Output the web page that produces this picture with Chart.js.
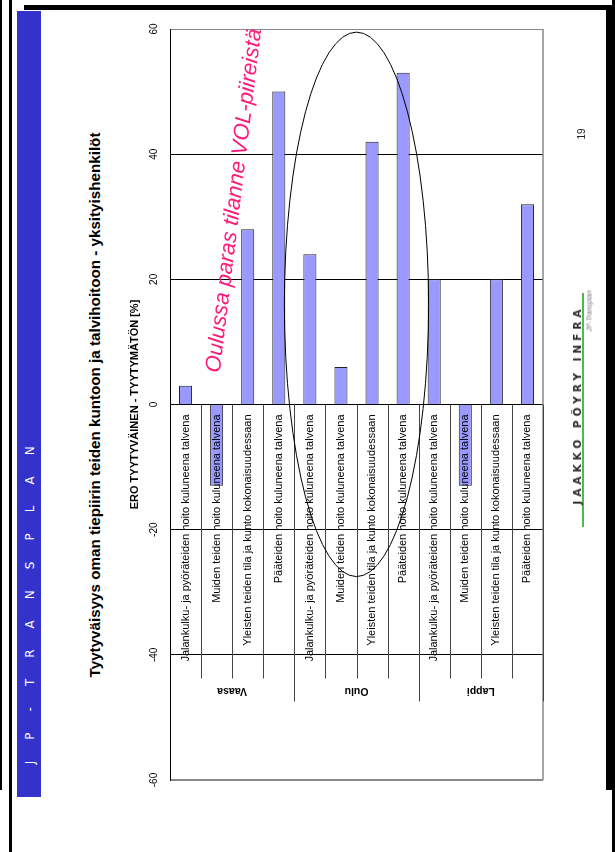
<!DOCTYPE html>
<html lang="fi">
<head>
<meta charset="utf-8">
<title>Tyytyväisyys oman tiepiirin teiden kuntoon ja talvihoitoon</title>
<script src="https://cdn.jsdelivr.net/npm/chart.js@4.4.1/dist/chart.umd.min.js"></script>
<style>
  html, body { margin: 0; padding: 0; background: #fff; }
  body { width: 615px; height: 852px; position: relative; overflow: hidden;
         font-family: "Liberation Sans", Arial, sans-serif; }
  #chart { position: absolute; left: 0; top: 0; }
  .rot { position: absolute; white-space: nowrap; transform: translate(-50%, -50%) rotate(-90deg); }
  .edge { position: absolute; background: #000; }
</style>
</head>
<body>
<!-- page frame -->
<div class="edge" style="left:0;top:0;width:2px;height:790px"></div>
<div class="edge" style="left:9px;top:0;width:3px;height:852px"></div>
<div class="edge" style="left:24px;top:5px;width:588px;height:5px"></div>
<div class="edge" style="left:606px;top:5px;width:6px;height:785px"></div>
<div class="edge" style="left:612px;top:0;width:3px;height:852px"></div>

<!-- side band -->
<div style="position:absolute;left:17px;top:11px;width:24px;height:786px;background:#3333cc"></div>
<div class="rot" style="left:30px;top:601px;color:#fff;font-family:'DejaVu Sans',sans-serif;font-size:12px;letter-spacing:8.6px">J P - T R A N S P L A N</div>

<div class="rot" style="left:94px;top:405px;font-size:15.2px;font-weight:bold;color:#000">Tyytyväisyys oman tiepiirin teiden kuntoon ja talvihoitoon - yksityishenkilöt</div>

<canvas id="chart" width="615" height="852"></canvas>

<div class="rot" style="left:581px;top:134px;font-size:10px;color:#222">19</div>

<!-- logo -->
<div style="position:absolute;left:582px;top:293px;width:2px;height:234px;background:#4cbb4c;filter:blur(0.4px)"></div>
<div class="rot" style="left:577px;top:405px;font-family:'DejaVu Sans',sans-serif;font-size:10.5px;font-weight:bold;letter-spacing:4px;color:#2a2a2a;filter:blur(0.5px)">JAAKKO PÖYRY INFRA</div>
<div class="rot" style="left:589px;top:311px;font-size:7px;font-style:italic;color:#777;filter:blur(0.4px)">JP-Transplan</div>

<script>
// Survey result: satisfied minus dissatisfied, per road district
const districts = ['Vaasa', 'Oulu', 'Lappi'];
const questions = [
  'Jalankulku- ja pyöräteiden hoito kuluneena talvena',
  'Muiden teiden hoito kuluneena talvena',
  'Yleisten teiden tila ja kunto kokonaisuudessaan',
  'Pääteiden hoito kuluneena talvena'
];
const vaasa = [3, -13, 28, 50];
const oulu = [24, 6, 42, 53];
const lappi = [20, -13, 20, 32];
const valueTicks = [-60, -40, -20, 0, 20, 40, 60];
const axisTitle = 'ERO TYYTYVÄINEN - TYYTYMÄTÖN [%]';
const note = 'Oulussa paras tilanne VOL-piireistä';

const labels = [];
districts.forEach(d => questions.forEach(q => labels.push(q)));
const values = [...vaasa, ...oulu, ...lappi];

const overlay = {
  id: 'overlay',
  afterDatasetsDraw(chart) {
    const { ctx, chartArea: a, scales: { x, y } } = chart;
    const zero = y.getPixelForValue(0);
    const step = x.getPixelForValue(1) - x.getPixelForValue(0);
    ctx.save();

    // right edge of plot
    ctx.strokeStyle = '#888';
    ctx.lineWidth = 1.5;
    ctx.beginPath();
    ctx.moveTo(a.right, a.top);
    ctx.lineTo(a.right, a.bottom);
    ctx.stroke();

    // category separators, longer ones between districts
    ctx.strokeStyle = '#444';
    ctx.lineWidth = 1;
    labels.forEach((_, i) => {
      const xb = Math.round(x.getPixelForValue(i) + step / 2) + 0.5;
      const len = (i + 1) % questions.length === 0 ? 297 : 274;
      ctx.beginPath();
      ctx.moveTo(xb, zero);
      ctx.lineTo(xb, zero + len);
      ctx.stroke();
    });

    // category labels next to the zero line
    ctx.fillStyle = '#000';
    ctx.font = '11px "Liberation Sans", Arial, sans-serif';
    ctx.textAlign = 'right';
    ctx.textBaseline = 'middle';
    labels.forEach((lab, i) => {
      ctx.save();
      ctx.translate(x.getPixelForValue(i), zero + 10);
      ctx.rotate(-Math.PI / 2);
      ctx.fillText(lab, 0, 0);
      ctx.restore();
    });

    // district names
    ctx.font = 'bold 10.5px "Liberation Sans", Arial, sans-serif';
    ctx.textAlign = 'center';
    districts.forEach((d, g) => {
      const first = g * questions.length;
      const cx = (x.getPixelForValue(first) + x.getPixelForValue(first + questions.length - 1)) / 2;
      ctx.save();
      ctx.translate(cx, zero + 286);
      ctx.rotate(Math.PI);
      ctx.fillText(d, 0, 0);
      ctx.restore();
    });

    // value tick labels
    ctx.font = '10px "Liberation Sans", Arial, sans-serif';
    valueTicks.forEach(v => {
      ctx.save();
      ctx.translate(a.left - 16, y.getPixelForValue(v));
      ctx.rotate(-Math.PI / 2);
      ctx.fillText(String(v), 0, 0);
      ctx.restore();
    });

    // value axis title
    ctx.font = 'bold 11px "Liberation Sans", Arial, sans-serif';
    ctx.save();
    ctx.translate(a.left - 35, zero);
    ctx.rotate(-Math.PI / 2);
    ctx.fillText(axisTitle, 0, 0);
    ctx.restore();

    // ellipse around the Oulu district
    const ox = (x.getPixelForValue(5) + x.getPixelForValue(6)) / 2;
    const oy = y.getPixelForValue(16);
    const ry = zero - y.getPixelForValue(43.5);
    ctx.strokeStyle = '#000';
    ctx.lineWidth = 1;
    ctx.beginPath();
    ctx.ellipse(ox, oy, step * 2.32, ry, 0, 0, Math.PI * 2);
    ctx.stroke();

    // callout text, slightly tilted
    ctx.fillStyle = '#ff1a7a';
    ctx.font = 'italic 22px "Liberation Sans", Arial, sans-serif';
    ctx.textAlign = 'left';
    ctx.textBaseline = 'alphabetic';
    ctx.save();
    ctx.translate(x.getPixelForValue(1.1), y.getPixelForValue(5));
    ctx.rotate(-Math.PI / 2 + 0.12);
    ctx.fillText(note, 0, 0);
    ctx.restore();

    ctx.restore();
  }
};

new Chart(document.getElementById('chart'), {
  type: 'bar',
  data: {
    labels: labels,
    datasets: [{
      data: values,
      backgroundColor: '#9999ff',
      borderColor: '#222',
      borderWidth: 1,
      categoryPercentage: 1,
      barPercentage: 0.42
    }]
  },
  options: {
    responsive: false,
    animation: false,
    layout: { padding: { left: 170, right: 72, top: 29, bottom: 72 } },
    plugins: { legend: { display: false }, tooltip: { enabled: false } },
    scales: {
      x: {
        ticks: { display: false },
        grid: { display: false, drawTicks: false },
        border: { display: false }
      },
      y: {
        min: -60,
        max: 60,
        ticks: { display: false, stepSize: 20 },
        grid: {
          drawTicks: false,
          color: c => (c.tick && Math.abs(c.tick.value) === 60) ? '#888' : '#000',
          lineWidth: c => (c.tick && c.tick.value === -60) ? 2 : 1
        },
        border: { color: '#000', width: 1 }
      }
    }
  },
  plugins: [overlay]
});
</script>
</body>
</html>
